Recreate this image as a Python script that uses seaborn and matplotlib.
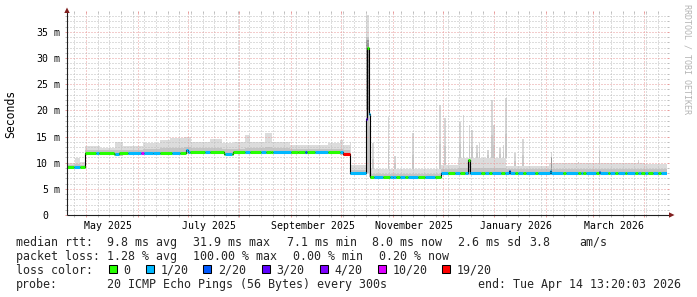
import numpy as np
import pandas as pd
import matplotlib
matplotlib.use("Agg")
import matplotlib.pyplot as plt
import matplotlib.dates as mdates
from matplotlib import transforms
from matplotlib.patches import Rectangle, Polygon
import seaborn as sns

# ---------------- data ----------------
START = "2025-04-19 13:20:03"
END = "2026-04-14 13:20:03"

# median RTT (ms), step function starting at each date
median_dates = [
    "2025-04-19 13:20", "2025-04-30 12:00", "2025-05-18 00:00", "2025-05-21 00:00",
    "2025-06-10 00:00", "2025-06-30 00:00", "2025-07-01 00:00", "2025-07-23 00:00",
    "2025-07-28 00:00", "2025-08-20 00:00", "2025-09-05 00:00", "2025-10-02 06:00",
    "2025-10-06 12:00", "2025-10-16 00:00", "2025-10-16 13:00", "2025-10-17 19:00",
    "2025-10-18 10:00", "2025-11-01 00:00", "2025-11-16 00:00", "2025-11-29 16:00",
    "2025-12-16 06:00", "2025-12-17 06:00", "2025-12-24 00:00", "2026-01-10 00:00",
    "2026-01-10 14:00", "2026-02-03 12:00", "2026-02-04 02:00", "2026-03-04 12:00",
    "2026-03-05 02:00",
]
median_ms = [
    9.2, 11.8, 11.6, 11.8,
    11.9, 12.4, 12.0, 11.6,
    12.0, 12.1, 12.0, 11.6,
    8.0, 18.3, 31.9, 19.3,
    7.2, 7.3, 7.2, 8.1,
    10.5, 8.1, 8.0, 8.5,
    8.0, 8.5, 8.0, 8.3,
    8.0,
]

# lost pings out of 20, step function starting at each date
loss_dates = [
    "2025-04-19 13:20", "2025-04-23 18:00", "2025-04-27 10:00",
    "2025-05-07 00:00", "2025-05-08 18:00", "2025-05-18 10:00", "2025-05-20 18:00",
    "2025-05-26 05:00", "2025-06-03 00:00", "2025-06-04 18:00", "2025-06-14 10:00",
    "2025-06-21 14:00", "2025-06-26 10:00", "2025-06-30 00:00", "2025-07-02 10:00",
    "2025-07-11 10:00", "2025-07-14 10:00", "2025-07-23 10:00", "2025-07-27 14:00",
    "2025-08-04 10:00", "2025-08-07 10:00", "2025-08-14 00:00", "2025-08-17 00:00",
    "2025-08-21 05:00", "2025-09-01 00:00", "2025-09-09 10:00", "2025-09-10 14:00",
    "2025-09-15 10:00", "2025-09-23 05:00", "2025-09-30 10:00", "2025-10-02 05:00",
    "2025-10-06 12:00", "2025-10-16 00:00", "2025-10-16 13:00", "2025-10-17 19:00",
    "2025-10-18 10:00", "2025-10-20 19:00", "2025-10-26 05:00", "2025-10-30 10:00",
    "2025-11-03 00:00", "2025-11-05 10:00", "2025-11-08 10:00", "2025-11-10 05:00",
    "2025-11-16 05:00", "2025-11-20 10:00", "2025-11-26 10:00",
    "2025-11-29 16:00", "2025-12-04 05:00", "2025-12-08 10:00", "2025-12-11 10:00",
    "2025-12-14 10:00", "2025-12-16 06:00", "2025-12-17 06:00", "2025-12-24 00:00",
    "2025-12-26 10:00", "2025-12-28 19:00", "2025-12-30 07:00", "2026-01-05 00:00",
    "2026-01-07 10:00", "2026-01-10 00:00", "2026-01-10 14:00", "2026-01-13 10:00",
    "2026-01-15 05:00", "2026-01-18 05:00", "2026-01-20 00:00", "2026-01-25 10:00",
    "2026-01-27 05:00", "2026-02-11 05:00", "2026-02-13 00:00", "2026-02-20 05:00",
    "2026-02-22 00:00", "2026-02-23 05:00", "2026-02-25 00:00", "2026-03-03 00:00",
    "2026-03-04 12:00", "2026-03-05 02:00", "2026-03-10 05:00", "2026-03-11 10:00",
    "2026-03-14 10:00", "2026-03-16 05:00", "2026-03-20 10:00", "2026-03-21 14:00",
    "2026-03-26 10:00", "2026-03-28 05:00", "2026-03-30 00:00", "2026-04-01 10:00",
    "2026-04-03 05:00", "2026-04-06 05:00", "2026-04-09 05:00", "2026-04-11 00:00",
]
loss_level = [
    0, 1, 0,
    1, 0, 1, 0,
    1, 10, 1, 0,
    1, 0, 1, 0,
    1, 0, 1, 0,
    1, 0, 1, 0,
    1, 0, 2, 0,
    1, 0, 1, 19,
    1, 3, 0, 1,
    0, 1, 0, 1,
    0, 1, 0, 1,
    0, 1, 0,
    1, 0, 1, 0,
    1, 0, 1, 0,
    1, 0, 1, 0,
    1, 2, 1, 0,
    1, 0, 1, 0,
    1, 0, 1, 0,
    1, 0, 1, 0,
    2, 1, 0, 1,
    0, 1, 0, 1,
    0, 1, 0, 1,
    0, 1, 0, 1,
]

# smoke (ping spread), step function: lower edge, outer upper edge, dense core upper edge (ms)
smoke_dates = [
    "2025-04-19 13:20", "2025-04-24 10:00", "2025-04-27 10:00", "2025-04-30 12:00",
    "2025-05-09 10:00", "2025-05-18 10:00", "2025-05-23 00:00", "2025-06-04 00:00",
    "2025-06-14 10:00", "2025-06-20 10:00", "2025-06-29 00:00", "2025-07-03 00:00",
    "2025-07-14 10:00", "2025-07-21 10:00", "2025-07-29 00:00", "2025-08-04 10:00",
    "2025-08-07 10:00", "2025-08-16 10:00", "2025-08-20 14:00", "2025-08-31 10:00",
    "2025-09-23 05:00", "2025-09-30 10:00", "2025-10-02 05:00", "2025-10-06 12:00",
    "2025-10-07 05:00", "2025-10-16 00:00", "2025-10-17 19:00", "2025-10-18 10:00",
    "2025-11-29 16:00", "2025-12-10 00:00", "2026-01-08 00:00", "2026-02-03 00:00",
    "2026-04-01 10:00",
]
smoke_lo = [
    8.9, 8.9, 8.9, 11.4,
    11.4, 11.3, 11.4, 11.5,
    11.5, 11.5, 11.6, 11.6,
    11.6, 11.6, 11.6, 11.6,
    11.6, 11.7, 11.7, 11.6,
    11.6, 11.5, 11.3, 7.7,
    7.7, 8.0, 7.3, 6.9,
    7.7, 7.7, 7.7, 7.7,
    7.7,
]
smoke_hi = [
    10.0, 10.8, 10.1, 13.1,
    12.8, 14.0, 13.1, 13.7,
    14.3, 14.7, 15.0, 13.9,
    14.6, 13.7, 13.9, 15.2,
    13.9, 15.6, 13.9, 13.4,
    13.7, 14.3, 13.4, 14.0,
    9.6, 38.3, 20.8, 8.7,
    9.6, 10.8, 9.3, 10.0,
    9.8,
]
smoke_core_hi = [
    9.6, 9.8, 9.6, 12.5,
    12.4, 12.5, 12.5, 12.6,
    12.8, 12.8, 13.0, 12.8,
    12.8, 12.7, 12.7, 12.8,
    12.8, 12.9, 12.8, 12.6,
    12.6, 12.7, 12.5, 9.0,
    8.6, 34.0, 17.0, 7.8,
    8.7, 9.0, 8.7, 8.8,
    8.7,
]

# densest smoke (darkest grey) in a few columns: start, length in days, lower/upper ms
dense_dates = ["2025-10-16 00:00", "2025-12-16 06:00", "2026-02-03 18:00"]
dense_days = [1.8, 1.0, 1.0]
dense_lo = [20.0, 8.3, 8.4]
dense_hi = [33.5, 10.6, 11.0]

# isolated smoke spikes (top of the spread, ms)
spike_dates = [
    "2025-10-20 00:00", "2025-10-29 10:00", "2025-11-02 10:00", "2025-11-13 00:00",
    "2025-11-29 10:00", "2025-12-02 10:00", "2025-12-11 10:00", "2025-12-13 10:00",
    "2025-12-17 00:00", "2025-12-18 10:00", "2025-12-21 10:00", "2025-12-23 00:00",
    "2025-12-28 00:00", "2025-12-30 10:00", "2025-12-31 19:00", "2026-01-04 10:00",
    "2026-01-06 10:00", "2026-01-07 19:00", "2026-01-13 10:00", "2026-01-18 05:00",
    "2026-02-04 05:00", "2026-02-20 10:00", "2026-03-05 00:00", "2026-03-28 10:00",
]
spike_top_ms = [
    13.7, 18.7, 11.2, 15.6,
    21.0, 18.5, 17.8, 19.1,
    17.2, 16.3, 13.4, 13.7,
    12.4, 22.0, 17.2, 12.8,
    13.4, 22.3, 11.8, 14.5,
    12.1, 10.2, 12.4, 10.5,
]

ytick_values = [0, 5, 10, 15, 20, 25, 30, 35]
ytick_labels = ["0", "5 m", "10 m", "15 m", "20 m", "25 m", "30 m", "35 m"]
xtick_months = ["2025-05-01", "2025-07-01", "2025-09-01", "2025-11-01", "2026-01-01", "2026-03-01"]
xtick_labels = ["May 2025", "July 2025", "September 2025", "November 2025", "January 2026", "March 2026"]
y_label = "Seconds"
watermark = "RRDTOOL / TOBI OETIKER"

loss_keys = [0, 1, 2, 3, 4, 10, 19]
loss_names = ["0", "1/20", "2/20", "3/20", "4/20", "10/20", "19/20"]
loss_colors = ["#26ff00", "#00b8ff", "#0059ff", "#5e00ff", "#7e00ff", "#dd00ff", "#ff0000"]

median_title = "median rtt:"
median_stats = ["9.8 ms avg", "31.9 ms max", "7.1 ms min", "8.0 ms now", "2.6 ms sd", "3.8", "am/s"]
loss_title = "packet loss:"
loss_stats = ["1.28 % avg", "100.00 % max", "0.00 % min", "0.20 % now"]
color_title = "loss color:"
probe_title = "probe:"
probe_text = "20 ICMP Echo Pings (56 Bytes) every 300s"
end_text = "end: Tue Apr 14 13:20:03 2026"


def to_dt(v):
    return pd.to_datetime(v, format="mixed")


# ---------------- style / layout ----------------
W, H = 697, 297
sns.set_style("white")
plt.rcParams["font.family"] = ["DejaVu Sans Mono", "DejaVu Sans"]

GRID_MINOR = "#bdbdbd"
GRID_MAJOR = "#e89a9a"
ARROW = "#801f1f"
AXIS = "#1f1f1f"
SMOKE_OUT = "#dcdcdc"
SMOKE_CORE = "#c4c4c4"
SMOKE_DENSE = "#979797"
LEG_FS = 8.4
TICK_FS = 7.1
DOTS = (0, (1, 2))


def fx(x):
    return x / W


def fy(y):
    return 1 - y / H


fig = plt.figure(figsize=(W / 100, H / 100), dpi=100)
fig.patch.set_facecolor("white")
ax = fig.add_axes([fx(67), fy(215), 600 / W, 202 / H])
ax.set_facecolor("white")

start = pd.Timestamp(START)
end = pd.Timestamp(END)

# smoke bands
s_t = to_dt(smoke_dates + [END])
s_lo = np.r_[smoke_lo, smoke_lo[-1]]
s_hi = np.r_[smoke_hi, smoke_hi[-1]]
s_core = np.r_[smoke_core_hi, smoke_core_hi[-1]]
ax.fill_between(s_t, s_lo, s_hi, step="post", color=SMOKE_OUT, lw=0, zorder=1)
ax.fill_between(s_t, s_lo, s_core, step="post", color=SMOKE_CORE, lw=0, zorder=1.2)

# spikes
sp_t = to_dt(spike_dates)
idx = np.searchsorted(s_t.values, sp_t.values, side="right") - 1
base = np.asarray(smoke_hi)[idx]
tops = np.asarray(spike_top_ms)
ax.bar(sp_t, tops - base, bottom=base, width=1.0, color="#d6d6d6", lw=0, zorder=1.1)
ax.bar(sp_t, (tops - base) * 0.4, bottom=base, width=1.0, color="#c9c9c9", lw=0, zorder=1.15)

# densest smoke columns
ax.bar(to_dt(dense_dates), np.asarray(dense_hi) - np.asarray(dense_lo), bottom=dense_lo,
       width=dense_days, align="edge", color=SMOKE_DENSE, lw=0, zorder=1.3)

# median line (thin black) via seaborn
df_med = pd.DataFrame({"time": to_dt(median_dates + [END]),
                       "ms": median_ms + [median_ms[-1]]})
sns.lineplot(data=df_med, x="time", y="ms", drawstyle="steps-post", color="black",
             linewidth=0.8, ax=ax, estimator=None, sort=False, legend=False, zorder=4)

# coloured median pieces by packet loss
md = to_dt(median_dates).values
ld = to_dt(loss_dates).values
end64 = np.datetime64(end.to_datetime64(), "ns")
bps = np.unique(np.concatenate([md, ld]))
bps = [b for b in bps if b < end64] + [end64]
xs0, xs1, ys, cs = [], [], [], []
for a, b in zip(bps[:-1], bps[1:]):
    v = median_ms[np.searchsorted(md, a, side="right") - 1]
    lv = loss_level[np.searchsorted(ld, a, side="right") - 1]
    xs0.append(mdates.date2num(pd.Timestamp(a)))
    xs1.append(mdates.date2num(pd.Timestamp(b)))
    ys.append(v)
    cs.append(loss_colors[loss_keys.index(lv)])
ax.hlines(ys, xs0, xs1, colors=cs, lw=2.2, zorder=5)

# limits
ax.set_xlim(start, end)
ax.set_ylim(0, 38.6)
ax.set_xlabel("")
ax.set_ylabel("")

# ticks & grid
month_starts = pd.date_range("2025-05-01", END, freq="MS")
weeks = pd.date_range("2025-04-24", END, freq="7D")
ms_set = set(month_starts)
weeks = [w for w in weeks if w not in ms_set]
ax.set_xticks(month_starts)
ax.set_xticks(weeks, minor=True)
ax.set_yticks(ytick_values)
ax.set_yticks([v for v in range(1, 39) if v % 5 != 0], minor=True)
ax.tick_params(which="both", direction="out", width=0.72, length=1.6,
               left=True, right=True, top=True, bottom=True,
               labelleft=False, labelbottom=False)
ax.tick_params(which="major", color=GRID_MAJOR)
ax.tick_params(which="minor", color=GRID_MINOR)
ax.set_axisbelow(False)
ax.grid(which="minor", color=GRID_MINOR, ls=DOTS, lw=0.72)
ax.grid(which="major", color=GRID_MAJOR, ls=DOTS, lw=0.72)
for s in ax.spines.values():
    s.set_visible(False)

# axes lines with arrows
ax.plot([0, 1.0035], [0, 0], transform=ax.transAxes, color=AXIS, lw=0.8,
        clip_on=False, zorder=6, solid_capstyle="butt")
ax.plot([0, 0], [0, 1.005], transform=ax.transAxes, color=AXIS, lw=0.8,
        clip_on=False, zorder=6, solid_capstyle="butt")
fig.add_artist(Polygon([(fx(67), fy(7.5)), (fx(64.3), fy(13)), (fx(69.7), fy(13))],
                       closed=True, transform=fig.transFigure, color=ARROW, lw=0))
fig.add_artist(Polygon([(fx(674.5), fy(215)), (fx(669), fy(212.3)), (fx(669), fy(217.7))],
                       closed=True, transform=fig.transFigure, color=ARROW, lw=0))

# y tick labels (rrdtool style: number, then unit)
blend = transforms.blended_transform_factory(ax.transAxes, ax.transData)
num_tr = transforms.offset_copy(blend, fig=fig, x=-19, y=0, units="dots")
unit_tr = transforms.offset_copy(blend, fig=fig, x=-13, y=0, units="dots")
for v, lab in zip(ytick_values, ytick_labels):
    parts = lab.split(" ")
    ax.text(0, v, parts[0], transform=num_tr, ha="right", va="center_baseline",
            fontsize=TICK_FS, color="black")
    if len(parts) > 1:
        ax.text(0, v, parts[1], transform=unit_tr, ha="left", va="center_baseline",
                fontsize=TICK_FS, color="black")

# x tick labels
for d, lab in zip(xtick_months, xtick_labels):
    pos = pd.Timestamp(d) + pd.Timedelta(days=13)
    ax.annotate(lab, xy=(mdates.date2num(pos), 0), xycoords=("data", "axes fraction"),
                xytext=(0, -9.6 * 0.72), textcoords="offset points",
                ha="center", va="center_baseline", fontsize=TICK_FS, color="black")

# y label and watermark
fig.text(fx(11), fy(114), y_label, rotation=90, ha="center", va="center",
         fontsize=8.3, color="black")
fig.text(fx(687.4), fy(4.5), watermark, rotation=-90, ha="center", va="top",
         fontsize=6.0, color="#b4b4b4")

# legend / stats block
rows = [245.7, 259.6, 273.6, 287.6]
fig.text(fx(16), fy(rows[0]), median_title, fontsize=LEG_FS, va="baseline")
for s, x in zip(median_stats, [107, 193, 287, 372, 458, 529, 579]):
    fig.text(fx(x), fy(rows[0]), s, fontsize=LEG_FS, va="baseline")
fig.text(fx(16), fy(rows[1]), loss_title, fontsize=LEG_FS, va="baseline")
for s, x in zip(loss_stats, [107, 193, 293, 379]):
    fig.text(fx(x), fy(rows[1]), s, fontsize=LEG_FS, va="baseline")
fig.text(fx(16), fy(rows[2]), color_title, fontsize=LEG_FS, va="baseline")
for name, col, bx in zip(loss_names, loss_colors, [108.7, 145.7, 203.3, 261.7, 320, 377.7, 442.3]):
    fig.add_artist(Rectangle((fx(bx), fy(273.3)), 8 / W, 8 / H, transform=fig.transFigure,
                             facecolor=col, edgecolor="black", lw=0.75))
    fig.text(fx(bx + 14.6), fy(rows[2]), name, fontsize=LEG_FS, va="baseline")
fig.text(fx(16), fy(rows[3]), probe_title, fontsize=LEG_FS, va="baseline")
fig.text(fx(107), fy(rows[3]), probe_text, fontsize=LEG_FS, va="baseline")
fig.text(fx(478), fy(rows[3]), end_text, fontsize=LEG_FS, va="baseline")

fig.savefig("out.png", dpi=100, facecolor="white")
